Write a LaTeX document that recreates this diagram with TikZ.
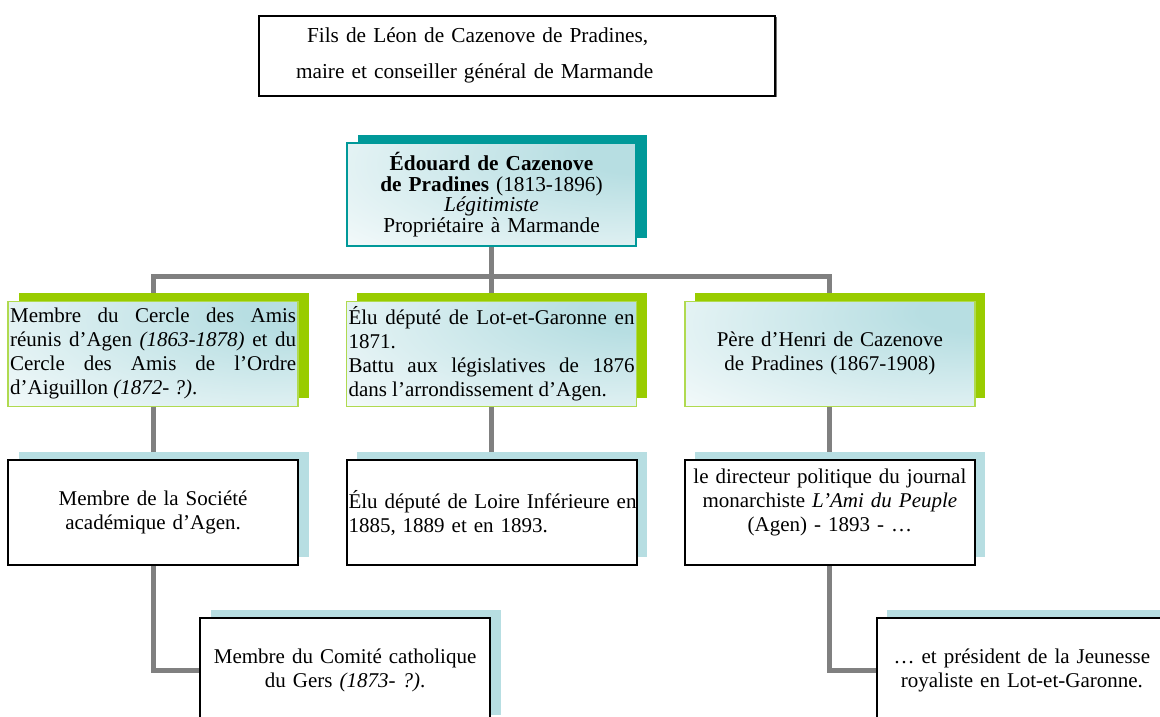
\documentclass[tikz,border=0pt]{standalone}
\usepackage{fontspec}
\setmainfont{Liberation Serif}
\usetikzlibrary{positioning,shadows,backgrounds}

\definecolor{linkgray}{RGB}{128,128,128}
\definecolor{tealdark}{RGB}{0,153,153}
\definecolor{lime}{RGB}{153,204,0}
\definecolor{limeline}{RGB}{176,218,80}
\definecolor{paleteal}{RGB}{183,222,226}

% pale teal glow in the upper right corner of a box
\pgfdeclareradialshading{tealglow}{\pgfpoint{28bp}{22bp}}{color(0bp)=(paleteal); color(10bp)=(paleteal); color(64bp)=(white); color(120bp)=(white)}

\tikzset{
    titlebox/.style = {draw, rectangle, line width=2pt, fill=white,
        minimum width=516pt, minimum height=80pt,
        text width=442pt, align=left, inner sep=0pt,
        font=\fontsize{21.3}{36}\selectfont,
        general shadow={shadow xshift=1.5pt, shadow yshift=-1.5pt, fill=black!55}},
    rootbox/.style = {draw=tealdark, rectangle, line width=1.4pt,
        shade, shading=tealglow,
        minimum width=289pt, minimum height=103pt,
        text width=285pt, align=center, inner sep=2pt,
        font=\fontsize{21.3}{20.7}\selectfont,
        general shadow={shadow xshift=10.5pt, shadow yshift=8pt, fill=tealdark}},
    greenbox/.style = {draw=limeline, rectangle, line width=1.4pt,
        shade, shading=tealglow,
        minimum width=290pt, minimum height=105pt,
        text width=286pt, inner sep=2pt,
        font=\fontsize{21}{24}\selectfont,
        general shadow={shadow xshift=10.5pt, shadow yshift=8.5pt, fill=lime}},
    bluebox/.style = {draw, rectangle, line width=2pt, fill=white,
        minimum width=290pt, minimum height=105pt,
        text width=286pt, inner sep=2pt,
        font=\fontsize{21}{24}\selectfont,
        general shadow={shadow xshift=10.5pt, shadow yshift=8.5pt, fill=paleteal}},
    link/.style = {draw=linkgray, line width=5pt},
}

\begin{document}
\begin{tikzpicture}[auto, node distance=47pt]
		\useasboundingbox (0,0) rectangle (1160pt,-716pt);
		\clip (0,0) rectangle (1160pt,-716pt);

		% Edouard and his father
		\node [rootbox] (root) at (491.5pt,-194.5pt) {\textbf{Édouard de Cazenove}\\\textbf{de Pradines} (1813-1896)\\\textit{Légitimiste}\\Propriétaire à Marmande};
		\node [titlebox, above=45.5pt of root, xshift=25.5pt] (fils) {\hspace*{11pt}Fils de Léon de Cazenove de Pradines,\\maire et conseiller général de Marmande};

		% second row
		\node [greenbox, below=54pt of root, align=justify] (depute) {Élu député de Lot-et-Garonne en 1871.\\Battu aux législatives de 1876\linebreak dans l’arrondissement d’Agen.};
		\node [greenbox, left=of depute, align=justify] (membre) {Membre du Cercle des Amis\linebreak réunis d’Agen \textit{(1863-1878)} et du\linebreak Cercle des Amis de l’Ordre\linebreak d’Aiguillon \textit{(1872- ?)}.};
		\node [greenbox, right=of depute, align=center] (pere) {Père d’Henri de Cazenove\\de Pradines (1867-1908)};

		% third row
		\node [bluebox, below=52pt of membre, align=center] (societe) {Membre de la Société\\académique d’Agen.};
		\node [bluebox, below=52pt of depute, align=left] (loire) {\mbox{Élu député de Loire Inférieure en}\\1885, 1889 et en 1893.};
		\node [bluebox, below=52pt of pere, align=center] (journal) {le directeur politique du journal\\monarchiste \textit{L’Ami du Peuple}\\(Agen) - 1893 - …\\\mbox{}};

		% fourth row
		\node [bluebox, below=51pt of societe, xshift=192pt, align=center] (comite) {Membre du Comité catholique\\du Gers \textit{(1873- ?)}.};
		\node [bluebox, below=51pt of journal, xshift=192pt, align=center] (jeunesse) {… et président de la Jeunesse\\royaliste en Lot-et-Garonne.};

		%% connecting lines
		\coordinate [below=30pt of root.south] (fork);
		\begin{scope}[on background layer]
		\draw [link] (root) -- (depute);
		\draw [link] (fork) -| (membre);
		\draw [link] (fork) -| (pere);
		\draw [link] (membre) -- (societe);
		\draw [link] (depute) -- (loire);
		\draw [link] (pere) -- (journal);
		\draw [link] (societe) |- (comite);
		\draw [link] (journal) |- (jeunesse);
		\end{scope}
	\end{tikzpicture}
\end{document}
